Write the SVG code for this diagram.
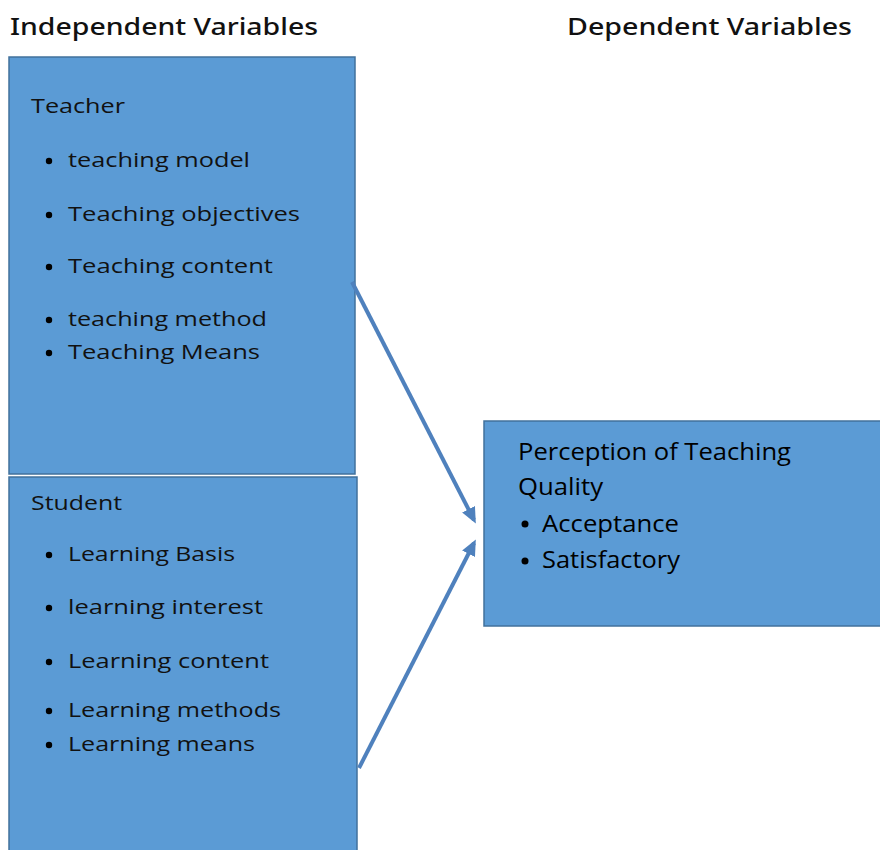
<svg xmlns="http://www.w3.org/2000/svg" width="880" height="850" viewBox="0 0 880 850">
<defs>
<style>
.box{fill:#5B9BD5;stroke:#41719C;stroke-width:1.5}
.hdr{font-family:"Noto Sans","Open Sans",sans-serif;font-size:23px;fill:#111;font-weight:500}
.t{font-family:"Open Sans","Noto Sans",sans-serif;font-size:20px;fill:#111}
.r{font-family:"Open Sans","Noto Sans",sans-serif;font-size:23px;fill:#000}
.b{fill:#000}
.arr{stroke:#4F81BD;stroke-width:4;fill:none;marker-end:url(#ah)}
</style>
<marker id="ah" markerWidth="4" markerHeight="4" refX="3" refY="2" orient="auto" markerUnits="strokeWidth">
<path d="M0,0.2 L4,2 L0,3.8 Z" fill="#4F81BD"/>
</marker>
</defs>
<rect width="880" height="850" fill="#fff"/>
<g id="headers">
<text class="hdr" x="10" y="35" textLength="308" lengthAdjust="spacingAndGlyphs">Independent Variables</text>
<text class="hdr" x="567" y="35" textLength="285" lengthAdjust="spacingAndGlyphs">Dependent Variables</text>
</g>
<g id="teacher">
<rect class="box" x="9" y="57" width="346" height="417"/>
<text class="t" x="31" y="113" textLength="94" lengthAdjust="spacingAndGlyphs">Teacher</text>
<circle class="b" cx="49" cy="161" r="3.2"/>
<text class="t" x="68" y="167" textLength="182" lengthAdjust="spacingAndGlyphs">teaching model</text>
<circle class="b" cx="49" cy="215" r="3.2"/>
<text class="t" x="68" y="221" textLength="232" lengthAdjust="spacingAndGlyphs">Teaching objectives</text>
<circle class="b" cx="49" cy="267" r="3.2"/>
<text class="t" x="68" y="273" textLength="205" lengthAdjust="spacingAndGlyphs">Teaching content</text>
<circle class="b" cx="49" cy="320" r="3.2"/>
<text class="t" x="68" y="326" textLength="199" lengthAdjust="spacingAndGlyphs">teaching method</text>
<circle class="b" cx="49" cy="353" r="3.2"/>
<text class="t" x="68" y="359" textLength="192" lengthAdjust="spacingAndGlyphs">Teaching Means</text>
</g>
<g id="student">
<rect class="box" x="9" y="477" width="348" height="380"/>
<text class="t" x="31" y="510" textLength="91" lengthAdjust="spacingAndGlyphs">Student</text>
<circle class="b" cx="49" cy="555" r="3.2"/>
<text class="t" x="68" y="561" textLength="167" lengthAdjust="spacingAndGlyphs">Learning Basis</text>
<circle class="b" cx="49" cy="608" r="3.2"/>
<text class="t" x="68" y="614" textLength="195" lengthAdjust="spacingAndGlyphs">learning interest</text>
<circle class="b" cx="49" cy="662" r="3.2"/>
<text class="t" x="68" y="668" textLength="201" lengthAdjust="spacingAndGlyphs">Learning content</text>
<circle class="b" cx="49" cy="711" r="3.2"/>
<text class="t" x="68" y="717" textLength="213" lengthAdjust="spacingAndGlyphs">Learning methods</text>
<circle class="b" cx="49" cy="745" r="3.2"/>
<text class="t" x="68" y="751" textLength="187" lengthAdjust="spacingAndGlyphs">Learning means</text>
</g>
<g id="perception">
<rect class="box" x="484" y="421" width="400" height="205"/>
<text class="r" x="518" y="460" textLength="273" lengthAdjust="spacingAndGlyphs">Perception of Teaching</text>
<text class="r" x="518" y="495" textLength="85" lengthAdjust="spacingAndGlyphs">Quality</text>
<circle class="b" cx="525" cy="524" r="3.5"/>
<text class="r" x="542" y="532" textLength="137" lengthAdjust="spacingAndGlyphs">Acceptance</text>
<circle class="b" cx="525" cy="561" r="3.5"/>
<text class="r" x="542" y="568" textLength="138" lengthAdjust="spacingAndGlyphs">Satisfactory</text>
</g>
<g id="connectors">
<line class="arr" x1="352" y1="282" x2="474" y2="520"/>
<line class="arr" x1="359" y1="768" x2="474" y2="543"/>
</g>
</svg>
